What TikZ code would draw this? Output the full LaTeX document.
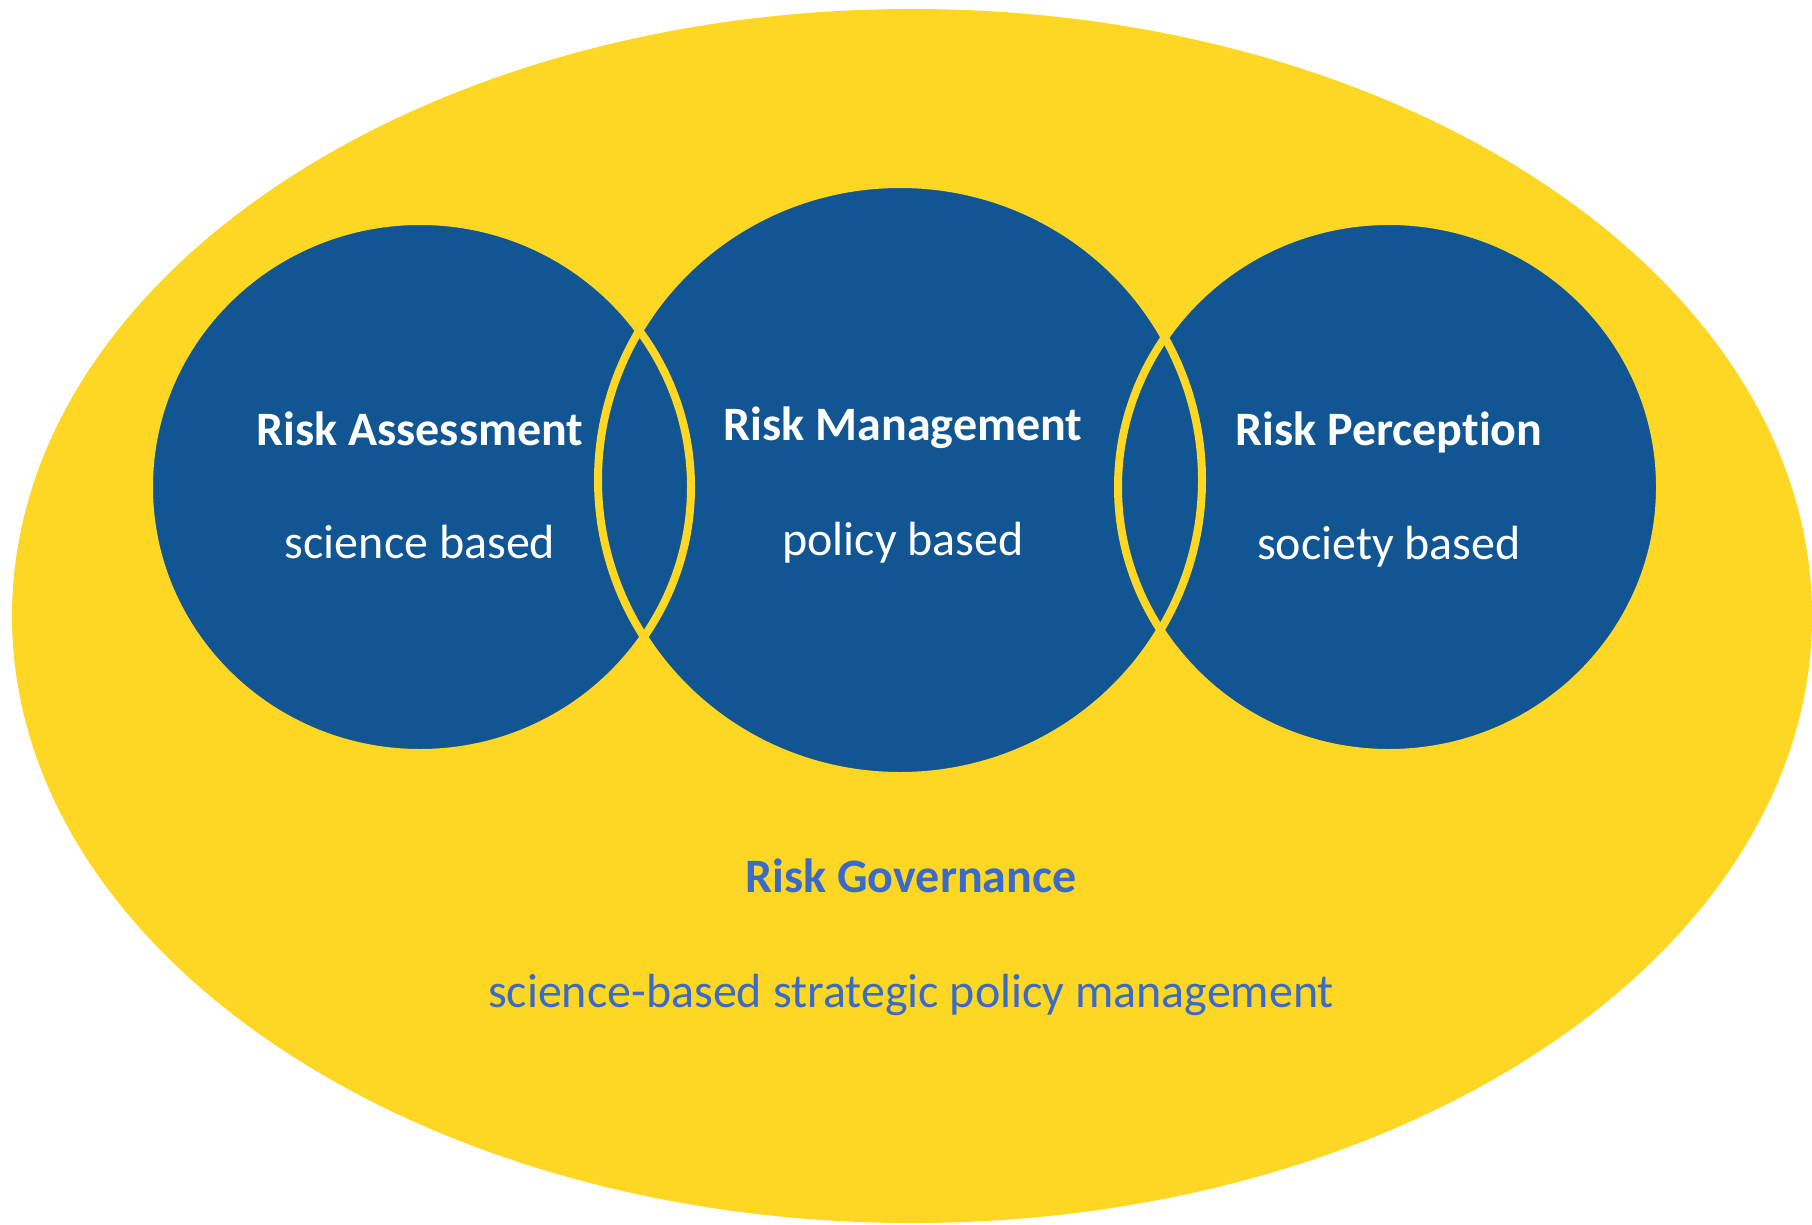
\documentclass[tikz,border=0pt]{standalone}
\usepackage{fontspec}
\setmainfont{Carlito}[Ligatures=NoCommon]
\definecolor{govyellow}{HTML}{FDD724}
\definecolor{riskblue}{HTML}{115592}
\definecolor{govblue}{HTML}{3A6BC8}
\tikzset{
	head/.style={anchor=base, text=white, font=\fontsize{48}{57}\selectfont\bfseries},
	basis/.style={anchor=base, text=white, font=\fontsize{48}{57}\selectfont},
	ring/.style={draw=govyellow, line width=8pt},
}

\begin{document}
\begin{tikzpicture}[x=1pt, y=-1pt]
		\useasboundingbox (0,0) rectangle (1812,1225);
		\fill[govyellow] (912,616) ellipse [x radius=900, y radius=607];
		\fill[riskblue] (420,487) ellipse [x radius=271, y radius=266];
		\fill[riskblue] (900,480) ellipse [x radius=302, y radius=296];
		\fill[riskblue] (1389,487) ellipse [x radius=271, y radius=266];
		\draw[ring] (420,487) ellipse [x radius=271, y radius=266];
		\draw[ring] (900,480) ellipse [x radius=302, y radius=296];
		\draw[ring] (1389,487) ellipse [x radius=271, y radius=266];
		\node[head] (assess) at (420,445) {Risk Assessment};
		\node[basis] (science) at (420,558) {science based};
		\node[head] (manage) at (903,440) {Risk Management};
		\node[basis] (policy) at (903,555) {policy based};
		\node[head] (percept) at (1389,445) {Risk Perception};
		\node[basis] (society) at (1389,559) {society based};
		\node[head, text=govblue] (govern) at (911,892) {Risk Governance};
		\node[basis, text=govblue] (strategic) at (911,1007) {science-based strategic policy management};
	\end{tikzpicture}
\end{document}
